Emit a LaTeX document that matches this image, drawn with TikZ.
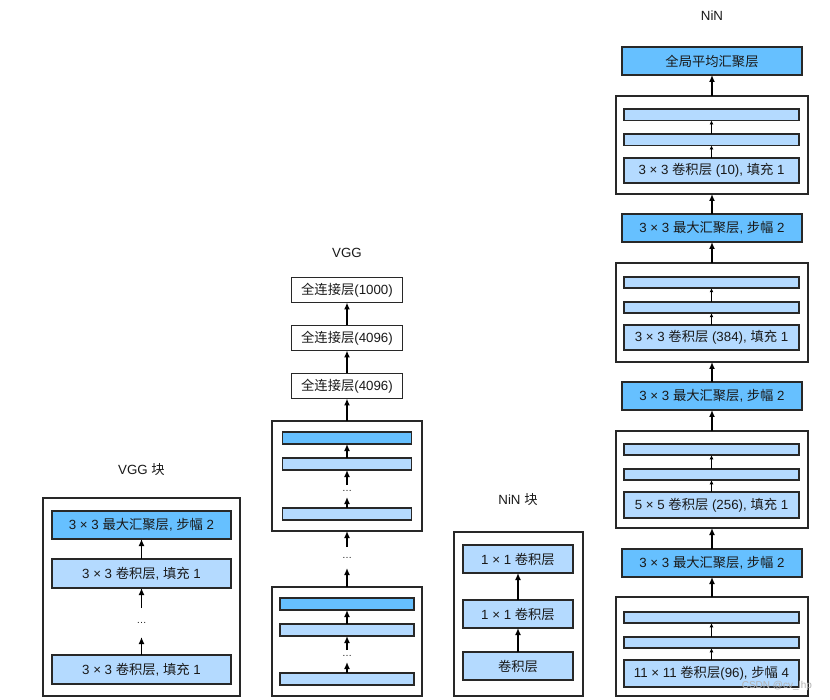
\documentclass[tikz,border=0pt]{standalone}
\usepackage{fontspec}
\setmainfont{Liberation Sans}
\newfontfamily\cjk{Noto Sans CJK SC}
\newcommand\zh[1]{{\cjk #1}}
\usetikzlibrary{arrows.meta}
\definecolor{dkb}{RGB}{102,192,255}
\definecolor{ltb}{RGB}{180,218,255}
\definecolor{edge}{RGB}{40,40,40}
\begin{document}
\begin{tikzpicture}[x=1pt,y=-1pt,
  font=\fontsize{13.3}{15}\selectfont,
  every node/.style={inner sep=0pt, outer sep=0pt, text=black!90},
  outerbox/.style={draw=edge, line width=2pt, fill=white},
  dk/.style={draw=edge, line width=1.8pt, fill=dkb},
  lt/.style={draw=edge, line width=1.8pt, fill=ltb},
  wb/.style={draw=edge, line width=1.8pt, fill=white},
  arr/.style={line width=1.6pt, draw=black, -{Latex[length=7pt,width=6pt]}},
  sarr/.style={line width=1.1pt, draw=black, -{Latex[length=4pt,width=4pt]}},
  dotsn/.style={minimum width=12pt, font=\fontsize{10}{10}\selectfont},
  ttl/.style={font=\fontsize{13.3}{15}\selectfont},
]
\useasboundingbox (0,0) rectangle (830,700);

% ---------------- VGG block ----------------
\node[ttl] (tvb) at (141.5,470) {VGG \zh{块}};
\node[outerbox, minimum width=197pt, minimum height=198pt] (vbo) at (141.5,597) {};
\node[dk, minimum width=179pt, minimum height=28pt] (vb1) at (141.5,525) {3 × 3 \zh{最大汇聚层}, \zh{步幅} 2};
\node[lt, minimum width=179pt, minimum height=29pt] (vb2) at (141.5,573.5) {3 × 3 \zh{卷积层}, \zh{填充} 1};
\node[dotsn, minimum height=29pt] (vbd) at (141.5,622.5) {…};
\node[lt, minimum width=179pt, minimum height=29pt] (vb3) at (141.5,669.5) {3 × 3 \zh{卷积层}, \zh{填充} 1};
\draw[arr] (vb2.north) -- (vb1.south);
\draw[arr] (vbd.north) -- (vb2.south);
\draw[arr] (vb3.north) -- (vbd.south);

% ---------------- VGG ----------------
\node[ttl] (tv) at (347,253) {VGG};
\node[wb, minimum width=111pt, minimum height=25pt] (fc1) at (347,290) {\zh{全连接层}(1000)};
\node[wb, minimum width=111pt, minimum height=25pt] (fc2) at (347,338) {\zh{全连接层}(4096)};
\node[wb, minimum width=111pt, minimum height=25pt] (fc3) at (347,386) {\zh{全连接层}(4096)};
% upper block
\node[outerbox, minimum width=150pt, minimum height=110pt] (vo1) at (347,476) {};
\node[dk, minimum width=129pt, minimum height=12pt] (va1) at (347,438) {};
\node[lt, minimum width=129pt, minimum height=12pt] (va2) at (347,464) {};
\node[dotsn, minimum height=12pt] (vad) at (347,491) {…};
\node[lt, minimum width=129pt, minimum height=12pt] (va3) at (347,514) {};
% between blocks
\node[dotsn, minimum height=21pt] (vmd) at (347,557.5) {…};
% lower block
\node[outerbox, minimum width=150pt, minimum height=109pt] (vo2) at (347,641.5) {};
\node[dk, minimum width=134pt, minimum height=12pt] (vc1) at (347,604) {};
\node[lt, minimum width=134pt, minimum height=12pt] (vc2) at (347,630) {};
\node[dotsn, minimum height=12pt] (vcd) at (347,656) {…};
\node[lt, minimum width=134pt, minimum height=12pt] (vc3) at (347,679) {};
\draw[arr] (fc2.north) -- (fc1.south);
\draw[arr] (fc3.north) -- (fc2.south);
\draw[arr] (vo1.north) -- (fc3.south);
\draw[arr] (va2.north) -- (va1.south);
\draw[arr] (vad.north) -- (va2.south);
\draw[arr] (va3.north) -- (vad.south);
\draw[arr] (vmd.north) -- (vo1.south);
\draw[arr] (vo2.north) -- (vmd.south);
\draw[arr] (vc2.north) -- (vc1.south);
\draw[arr] (vcd.north) -- (vc2.south);
\draw[arr] (vc3.north) -- (vcd.south);

% ---------------- NiN block ----------------
\node[ttl] (tnb) at (518,500) {NiN \zh{块}};
\node[outerbox, minimum width=129pt, minimum height=164pt] (nbo) at (518.5,614) {};
\node[lt, minimum width=110pt, minimum height=28pt] (nb1) at (518,559) {1 × 1 \zh{卷积层}};
\node[lt, minimum width=110pt, minimum height=28pt] (nb2) at (518,614) {1 × 1 \zh{卷积层}};
\node[lt, minimum width=110pt, minimum height=28pt] (nb3) at (518,666) {\zh{卷积层}};
\draw[arr] (nb2.north) -- (nb1.south);
\draw[arr] (nb3.north) -- (nb2.south);

% ---------------- NiN ----------------
\node[ttl] (tn) at (712,16) {NiN};
\node[dk, minimum width=180pt, minimum height=28pt] (gap) at (712,61) {\zh{全局平均汇聚层}};
% block 1
\node[outerbox, minimum width=192pt, minimum height=98pt] (no1) at (712,145) {};
\node[lt, minimum width=175pt, minimum height=11.5pt] (n1a) at (711.5,114.7) {};
\node[lt, minimum width=175pt, minimum height=11.5pt] (n1b) at (711.5,139.7) {};
\node[lt, minimum width=175pt, minimum height=25pt] (n1c) at (711.5,170.5) {3 × 3 \zh{卷积层} (10), \zh{填充} 1};
\node[dk, minimum width=180pt, minimum height=28pt] (np1) at (712,228) {3 × 3 \zh{最大汇聚层}, \zh{步幅} 2};
% block 2
\node[outerbox, minimum width=192pt, minimum height=99pt] (no2) at (712,312.5) {};
\node[lt, minimum width=175pt, minimum height=11.5pt] (n2a) at (711.5,282.5) {};
\node[lt, minimum width=175pt, minimum height=11.5pt] (n2b) at (711.5,307.5) {};
\node[lt, minimum width=175pt, minimum height=25pt] (n2c) at (711.5,337.5) {3 × 3 \zh{卷积层} (384), \zh{填充} 1};
\node[dk, minimum width=180pt, minimum height=28pt] (np2) at (712,396) {3 × 3 \zh{最大汇聚层}, \zh{步幅} 2};
% block 3
\node[outerbox, minimum width=192pt, minimum height=97pt] (no3) at (712,479.5) {};
\node[lt, minimum width=175pt, minimum height=11.5pt] (n3a) at (711.5,449.5) {};
\node[lt, minimum width=175pt, minimum height=11.5pt] (n3b) at (711.5,474.5) {};
\node[lt, minimum width=175pt, minimum height=26pt] (n3c) at (711.5,505) {5 × 5 \zh{卷积层} (256), \zh{填充} 1};
\node[dk, minimum width=180pt, minimum height=28pt] (np3) at (712,563) {3 × 3 \zh{最大汇聚层}, \zh{步幅} 2};
% block 4
\node[outerbox, minimum width=192pt, minimum height=99pt] (no4) at (712,646.5) {};
\node[lt, minimum width=175pt, minimum height=11.5pt] (n4a) at (711.5,617.5) {};
\node[lt, minimum width=175pt, minimum height=11.5pt] (n4b) at (711.5,642.5) {};
\node[lt, minimum width=175pt, minimum height=27pt] (n4c) at (711.5,673.5) {11 × 11 \zh{卷积层}(96), \zh{步幅} 4};

\draw[arr] (no1.north) -- (gap.south);
\draw[arr] (np1.north) -- (no1.south);
\draw[arr] (no2.north) -- (np1.south);
\draw[arr] (np2.north) -- (no2.south);
\draw[arr] (no3.north) -- (np2.south);
\draw[arr] (np3.north) -- (no3.south);
\draw[arr] (no4.north) -- (np3.south);
\foreach \k in {1,2,3,4}{
  \draw[sarr] (n\k b.north) -- (n\k a.south);
  \draw[sarr] (n\k c.north) -- (n\k b.south);
}

% watermark
\node[text=black!30, font=\fontsize{10}{11}\selectfont, anchor=east] (wm) at (812,686) {CSDN @cv\_lhp};
\end{tikzpicture}
\end{document}
